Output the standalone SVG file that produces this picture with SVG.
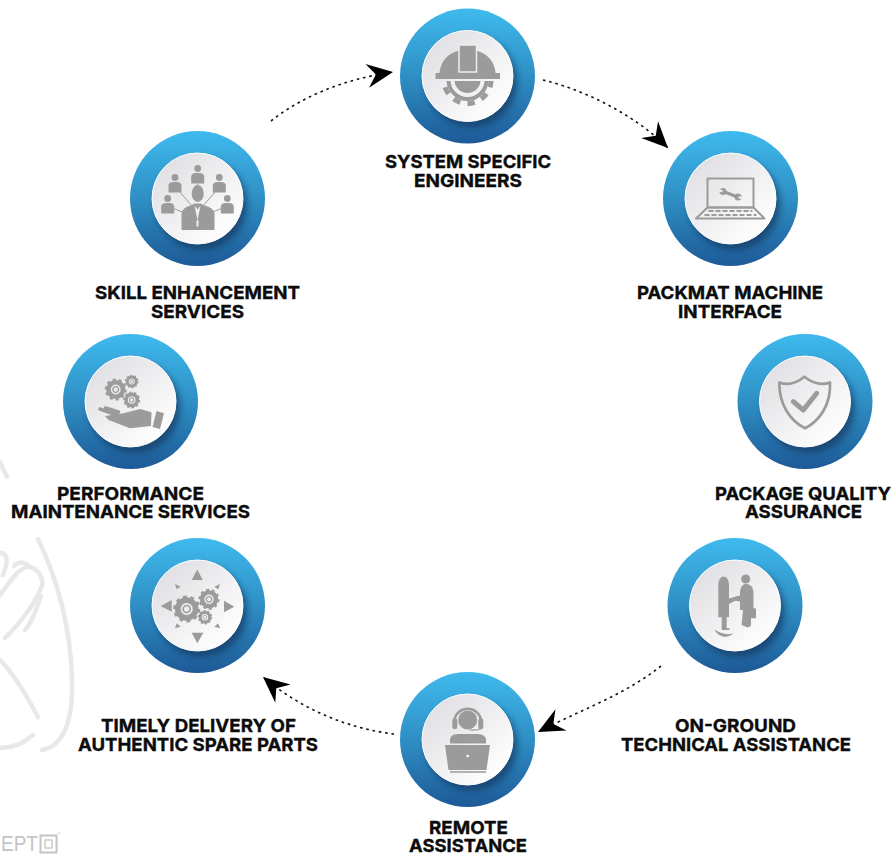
<svg xmlns="http://www.w3.org/2000/svg" width="893" height="854" viewBox="0 0 893 854">
<style>
.lbl{font-family:"Inter","Liberation Sans",sans-serif;font-weight:700;font-size:18px;fill:#0c0c0c;text-anchor:middle;stroke:#0c0c0c;stroke-width:.35}
.ic{fill:#9b9b9b;stroke:none}
.icl{fill:none;stroke:#9b9b9b;stroke-linecap:round;stroke-linejoin:round}
.wm{fill:none;stroke:#e8e8e8;stroke-width:4.5;stroke-linecap:round;stroke-linejoin:round}
.dot{fill:none;stroke:#111;stroke-width:1.6;stroke-dasharray:2.6 3.8}
</style>
<defs>
<linearGradient id="ring" x1="0" y1="0" x2="0" y2="1"><stop offset="0" stop-color="#3fbaee"/><stop offset=".5" stop-color="#2f8fc4"/><stop offset="1" stop-color="#1d5a97"/></linearGradient>
<linearGradient id="face" x1="0.1" y1="0.1" x2="0.85" y2="0.9"><stop offset="0" stop-color="#dfdfe3"/><stop offset="1" stop-color="#ffffff"/></linearGradient>
<filter id="sh" x="-40%" y="-40%" width="180%" height="180%"><feGaussianBlur stdDeviation="3.5"/></filter>
<marker id="head" markerUnits="userSpaceOnUse" markerWidth="26" markerHeight="26" viewBox="0 0 24 24" refX="24" refY="12" orient="auto"><path d="M24 12L0 1L8 12L0 23Z" fill="#000"/></marker>
<g id="disc">
<circle r="67.5" fill="url(#ring)"/>
<circle cx="4" cy="6" r="45.5" fill="#143a63" opacity=".75" filter="url(#sh)"/>
<circle r="45.5" fill="url(#face)" stroke="#fff" stroke-width="1"/>
</g>
<g id="gear">
<circle r="6.6" fill="none" stroke="#9b9b9b" stroke-width="4.2"/>
<circle r="9" fill="none" stroke="#9b9b9b" stroke-width="2" pathLength="20" stroke-dasharray="1 1"/>
<circle r="2.6" fill="none" stroke="#9b9b9b" stroke-width="1.2"/>
</g>
<g id="person">
<circle cy="-8" r="3.4" class="ic"/>
<path d="M-6.5 7V0Q-6.5-3-2.5-3.6H2.5Q6.5-3 6.5 0V7Z" class="ic"/>
</g>
<clipPath id="lower"><rect x="-40" y="5" width="80" height="40"/></clipPath>
</defs>
<rect width="893" height="854" fill="#fff"/>

<g id="watermark">
<path class="wm" d="M38 539C58 580 71 630 72 680C73 715 67 745 42 750"/>
<path class="wm" d="M0 462L7 477"/>
<path class="wm" d="M0 595C12 578 22 565 30 567C38 569 44 578 42 586C34 606 18 625 5 638"/>
<path class="wm" d="M0 553C5 552 8 558 6 566L3 575M14 566C20 560 26 563 30 567"/>
<path class="wm" d="M41 596C36 610 32 622 25 630"/>
<path class="wm" d="M0 660C15 675 28 698 38 717"/>
<path class="wm" d="M0 748C12 748 24 743 33 735"/>
</g>
<g id="logo">
<text x="1" y="850.500" font-family="'Liberation Sans',sans-serif" font-size="22" fill="#c4c4c4" textLength="37" lengthAdjust="spacingAndGlyphs">EPT</text>
<rect x="40.500" y="835.500" width="16" height="17" fill="none" stroke="#c4c4c4" stroke-width="2"/>
<rect x="45" y="840" width="7" height="8" fill="none" stroke="#c4c4c4" stroke-width="1.300"/>
<circle cx="59" cy="833" r="1" fill="none" stroke="#ccc" stroke-width=".5"/>
</g>

<g id="connectors">
<path class="dot" marker-end="url(#head)" d="M271 121C300 98 340 80 393 72"/>
<path class="dot" marker-end="url(#head)" d="M543 80C585 90 635 115 668 148"/>
<path class="dot" marker-end="url(#head)" d="M661 666C625 695 578 711 538 732"/>
<path class="dot" marker-end="url(#head)" d="M394 734C345 728 300 708 263 677"/>
</g>

<g id="node-engineers">
<g transform="translate(467.500 76)">
<use href="#disc"/>
<g clip-path="url(#lower)"><circle cy="4" r="21" class="ic"/><circle cy="4" r="23.500" fill="none" stroke="#9b9b9b" stroke-width="5" pathLength="20" stroke-dasharray="1 1"/></g>
<circle cy="4" r="15" fill="none" stroke="#f1f1f3" stroke-width="4"/>
<path class="ic" d="M-28-3C-27-16-17-25-5-26H5C17-25 27-16 28-3Z"/>
<rect x="-32" y="-3" width="64.500" height="6" class="ic"/>
<rect x="-8.500" y="-31" width="17.500" height="27" class="ic" style="stroke:#eee;stroke-width:1.500"/>
</g>
<text class="lbl" x="468" y="168" textLength="166" lengthAdjust="spacingAndGlyphs">SYSTEM SPECIFIC</text>
<text class="lbl" x="468" y="187" textLength="108" lengthAdjust="spacingAndGlyphs">ENGINEERS</text>
</g>

<g id="node-skill">
<g transform="translate(197.500 198.500)">
<use href="#disc"/>
<path class="icl" stroke-width="1" d="M0-14V-5M-19-8L-5 8M19-8L5 8M-24 10L-14 14M24 10L14 14"/>
<use href="#person" x="0.200" y="-22"/><use href="#person" x="-22.500" y="-13"/><use href="#person" x="21.800" y="-13"/><use href="#person" x="-29.800" y="8"/><use href="#person" x="29.800" y="8"/>
<ellipse cx="0.200" cy="-5" rx="6" ry="8.500" class="ic"/>
<path class="ic" d="M-16 31.500V15Q-15 9-7 7L-3 5H3L7 7Q16 9 17 15V31.500Z"/>
<path d="M-3 7L0 22L3 7L0 11Z M-1 22H1V28H-1Z" fill="#f0f0f2"/>
</g>
<text class="lbl" x="197.500" y="299" textLength="205" lengthAdjust="spacingAndGlyphs">SKILL ENHANCEMENT</text>
<text class="lbl" x="197.500" y="318" textLength="93" lengthAdjust="spacingAndGlyphs">SERVICES</text>
</g>

<g id="node-packmat">
<g transform="translate(730.500 198.500)">
<use href="#disc"/>
<rect x="-23" y="-20" width="46" height="29" class="icl" stroke-width="2"/>
<path class="icl" stroke-width="2" d="M-23 9H23L34 20H-34.500Z"/>
<path class="icl" stroke-width="1.800" style="stroke-linecap:butt" stroke-dasharray="5 2" d="M-22 12.500H22M-26 16.500H26"/>
<path class="icl" stroke-width="3" d="M-7-7L7-1.500"/>
<circle cx="-7.500" cy="-7" r="3.500" class="ic"/>
<circle cx="7.500" cy="-1.500" r="3.500" class="ic"/>
<path d="M-8-7L-12-8.500M8-1.500L12 0" fill="none" stroke="#efeff1" stroke-width="2.200"/>
</g>
<text class="lbl" x="730" y="299" textLength="186" lengthAdjust="spacingAndGlyphs">PACKMAT MACHINE</text>
<text class="lbl" x="730" y="318" textLength="104" lengthAdjust="spacingAndGlyphs">INTERFACE</text>
</g>

<g id="node-quality">
<g transform="translate(805 401.500)">
<use href="#disc"/>
<path class="icl" stroke-width="2.700" d="M-25.700-19C-18-16-9-18-0.700-24.800C8-18 17-16 25-19C26 3 15 19 0 26.800C-15 19-26 3-25.700-19Z"/>
<path class="icl" stroke-width="5" d="M-11.700 0.200L-1.700 8.500L11.700-8.200"/>
</g>
<text class="lbl" x="803" y="500" textLength="176" lengthAdjust="spacingAndGlyphs">PACKAGE QUALITY</text>
<text class="lbl" x="803.500" y="518" textLength="117" lengthAdjust="spacingAndGlyphs">ASSURANCE</text>
</g>

<g id="node-ground">
<g transform="translate(735 605.500)">
<use href="#disc"/>
<path class="ic" d="M-16.700 11.800V-20C-16.700-26-14-29-11.500-29C-8.500-29-6-26-6-20V-7L3.300-9.500V-6.500L-6-1.500V11.800H-8.300V22.800H-5.500V24.500H-13.300V11.800Z"/>
<circle cx="10.700" cy="-26.500" r="4.500" class="ic"/>
<path class="ic" d="M5-12C5-19 8-21.500 11-21.500C16-21.500 18.500-18 18.500-12V4.500H16V20.500L12.500 22L6.500 19.500L8 4.500H5V-4L-1.500-5V-8L5-10Z"/>
<rect x="15" y="2.800" width="6" height="10" rx="1" class="ic"/>
<path class="ic" d="M-20.700 23.800C-15 28-8 30-1.700 27.800C-6 33-16 33-20.700 23.800Z"/>
</g>
<text class="lbl" x="735.500" y="732" textLength="121" lengthAdjust="spacingAndGlyphs">ON-GROUND</text>
<text class="lbl" x="736" y="751" textLength="230" lengthAdjust="spacingAndGlyphs">TECHNICAL ASSISTANCE</text>
</g>

<g id="node-remote">
<g transform="translate(467.500 739.500)">
<use href="#disc"/>
<circle cx="0.200" cy="-19.500" r="9.500" class="ic"/>
<path class="icl" stroke-width="2.500" d="M-13-20A13.500 13.500 0 0 1 13.400-20"/>
<rect x="-15.200" y="-21.200" width="5" height="11" rx="2.500" class="ic"/>
<rect x="10.800" y="-21.200" width="5" height="11" rx="2.500" class="ic"/>
<path class="icl" stroke-width="1.200" d="M14-11Q10-9 2.500-9.500"/>
<path class="ic" d="M-17.500 4V1Q-17.500-5.500-10-5.500H10Q18.500-5.500 18.500 1V4Z"/>
<path class="ic" d="M-22.500 5.500H22.500L19 30.500H-19Z"/>
<circle cx="0.200" cy="16.500" r="1.300" fill="#fff"/>
<path class="icl" stroke-width="1.300" style="stroke-linecap:butt" d="M-17.500 32.500H18.500"/>
</g>
<text class="lbl" x="468.500" y="834" textLength="79" lengthAdjust="spacingAndGlyphs">REMOTE</text>
<text class="lbl" x="468" y="851.500" textLength="118" lengthAdjust="spacingAndGlyphs">ASSISTANCE</text>
</g>

<g id="node-delivery">
<g transform="translate(197.500 605.500)">
<use href="#disc"/>
<path class="ic" d="M-0.200-36L-5.800-25.500H5.200ZM-0.200 37.800L-5.800 27.200H5.800ZM-36.800 0.500L-25.800-5.500V6.200ZM36.800 1.200L26.500-4.800V6.800ZM-22.500-21.500L-16.800-18.800L-20.800-16.200ZM22.500-21.500L16.800-18.800L20.800-16.200ZM-22.500 22.800L-16.800 21.200L-20.800 17.800ZM22.500 22.800L16.800 21.200L20.800 17.800Z"/>
<use href="#gear" transform="translate(-10.800 3.500) scale(1.350)"/>
<use href="#gear" transform="translate(11.500 -6.200) scale(1.050)"/>
<use href="#gear" transform="translate(7.500 11.800) scale(.72)"/>
</g>
<text class="lbl" x="198.500" y="732" textLength="195" lengthAdjust="spacingAndGlyphs">TIMELY DELIVERY OF</text>
<text class="lbl" x="198" y="751" textLength="240" lengthAdjust="spacingAndGlyphs">AUTHENTIC SPARE PARTS</text>
</g>

<g id="node-performance">
<g transform="translate(130.500 401.500)">
<use href="#disc"/>
<use href="#gear" transform="translate(-14.800 -12) scale(1.100)"/>
<use href="#gear" transform="translate(1.200 -20) scale(.68)"/>
<use href="#gear" transform="translate(1.200 -1.500) scale(.85)"/>
<path class="icl" stroke-width="3.500" d="M-30.500 7.500L-12 14.200M-25 6.500L-12 10.500"/>
<path class="ic" d="M-25.500 14.500L-7 11.800L9.500 7.500L21 10.800L20.500 24.500L-0.500 26.800L-22 18.500Z"/>
<path class="ic" d="M26 9.500L33.500 11.800L29.500 27.500L22 25.500Z"/>
</g>
<text class="lbl" x="130.500" y="500" textLength="147" lengthAdjust="spacingAndGlyphs">PERFORMANCE</text>
<text class="lbl" x="130.500" y="518" textLength="239" lengthAdjust="spacingAndGlyphs">MAINTENANCE SERVICES</text>
</g>
</svg>
